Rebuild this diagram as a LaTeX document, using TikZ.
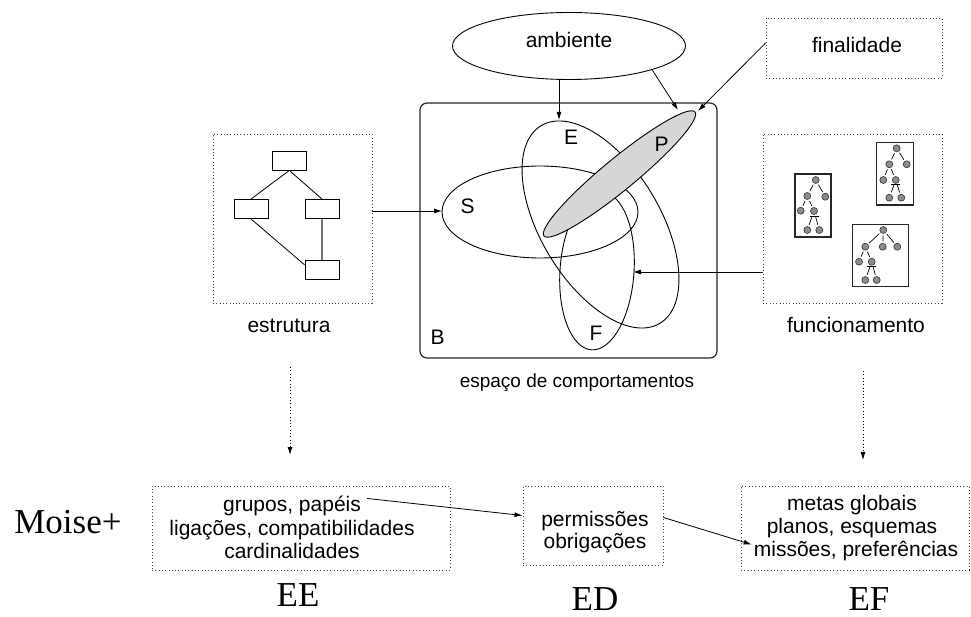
\documentclass[tikz,border=0pt]{standalone}
\usepackage{fontspec}
\setmainfont{Liberation Serif}
\setsansfont{Liberation Sans}
\usetikzlibrary{arrows.meta,shapes.geometric}

\tikzset{
  lbl/.style={font=\sffamily\fontsize{21}{24}\selectfont, inner sep=0pt, anchor=base},
  setlbl/.style={font=\sffamily\fontsize{21}{24}\selectfont, inner sep=0pt, anchor=base},
  smalllbl/.style={font=\sffamily\fontsize{19}{22}\selectfont, inner sep=0pt, anchor=base},
  bigserif/.style={font=\rmfamily\fontsize{35}{40}\selectfont, inner sep=0pt, anchor=base},
  dotbox/.style={draw=black!75, dash pattern=on 1pt off 2.3pt, line width=0.9pt, inner sep=0pt},
  arr/.style={-{Latex[length=8pt,width=5pt]}, line width=0.8pt},
  dotarr/.style={arr, dash pattern=on 1pt off 2.3pt},
  setline/.style={line width=0.9pt},
  orgbox/.style={draw, line width=0.9pt, minimum width=34, minimum height=19, inner sep=0pt},
  treebox/.style={draw=black!85, line width=1.1pt, inner sep=0pt},
  tn/.style={circle, draw=black!80, fill=black!45, minimum size=7pt, inner sep=0pt, line width=0.6pt},
  te/.style={line width=0.7pt, shorten <=1.6pt, shorten >=1.6pt},
}

\begin{document}
\begin{tikzpicture}[x=1pt,y=-1pt]
\useasboundingbox (0,0) rectangle (971,617);

% ---------- behaviour space ----------
\node[draw=black!85, line width=1.2pt, rounded corners=7pt, minimum width=297, minimum height=255, inner sep=0pt] (space) at (568.5,230.5) {};
\node[smalllbl] (spacelbl) at (577,387) {espaço de comportamentos};

% sets E, S, F
\draw[setline, shift={(600.5,224.5)}, rotate=-59] (0,0) ellipse [x radius=115.3pt, y radius=59.8pt];
\draw[setline] (540,212) ellipse [x radius=98pt, y radius=46pt];
\draw[setline, shift={(597,271)}, rotate=-4] (0,0) ellipse [x radius=37pt, y radius=79pt];
% set P
\draw[setline, fill=black!16, shift={(619.5,174)}, rotate=39.4] (0,0) ellipse [x radius=97.7pt, y radius=16pt];

\node[setlbl] (lE) at (571,145) {E};
\node[setlbl] (lP) at (661.5,152) {P};
\node[setlbl] (lS) at (467.5,214) {S};
\node[setlbl] (lF) at (596,340) {F};
\node[setlbl] (lB) at (437.5,344) {B};

\coordinate (Etop) at (559,120);
\coordinate (Pa) at (678,110);
\coordinate (Pb) at (698,111);
\coordinate (Sleft) at (442,211);
\coordinate (Fright) at (633,272);

% ---------- environment and purpose ----------
\node[draw, ellipse, line width=0.9pt, minimum width=233, minimum height=67, inner sep=0pt] (amb) at (569,46) {};
\node[lbl] (amblbl) at (569,48) {ambiente};
\draw[arr] (amb.south -| Etop) -- (Etop);
\draw[arr] (amb.-16) -- (Pa);

\node[dotbox, minimum width=176, minimum height=60] (fin) at (854,48) {};
\node[lbl] (finlbl) at (857,53) {finalidade};
\draw[arr] ([yshift=5pt]fin.west) -- (Pb);

% ---------- structure ----------
\node[dotbox, minimum width=159, minimum height=169] (est) at (292.5,218.5) {};
\node[orgbox] (o1) at (289.3,160.5) {};
\node[orgbox] (o2) at (251,209) {};
\node[orgbox] (o3) at (322,209) {};
\node[orgbox] (o4) at (322,269.5) {};
\draw[line width=0.8pt] (o1.south) -- (o2.north);
\draw[line width=0.8pt] (o1.south) -- (o3.north);
\draw[line width=0.8pt] (o2.south) -- (o4.165);
\draw[line width=1.6pt, black!55] (o3.south) -- (o4.north);
\node[lbl] (estlbl) at (289,333) {estrutura};
\draw[arr] (est.east |- Sleft) -- (Sleft);

% ---------- functioning ----------
\node[dotbox, minimum width=179, minimum height=169] (fun) at (852.5,218.5) {};
\node[lbl] (funlbl) at (856,333) {funcionamento};
\draw[arr] (fun.west |- Fright) -- (Fright);

% tree A
\node[treebox, minimum width=36, minimum height=63] (ta) at (813,205.5) {};
\node[tn] (Ar) at (815.7,180) {};
\node[tn] (Ac1) at (807.3,196) {};
\node[tn] (Ac2) at (825.3,196.7) {};
\node[tn] (Ag1) at (800.7,210.7) {};
\node[tn] (Ag2) at (814,211) {};
\node[tn] (Ah1) at (807.3,230) {};
\node[tn] (Ah2) at (819.3,230) {};
\draw[te] (Ar) -- (Ac1);
\draw[te] (Ar) -- (Ac2);
\draw[te] (Ac1) -- (Ag1);
\draw[te] (Ac1) -- (Ag2);
\draw[te] (Ag2) -- (Ah1);
\draw[te] (Ag2) -- (Ah2);
\draw[line width=0.7pt] ([xshift=-4.5pt,yshift=-5pt]Ag2.center) -- ([xshift=4.5pt,yshift=-5pt]Ag2.center);

% tree B
\node[treebox, minimum width=36.6, minimum height=62.7] (tb) at (895,173.7) {};
\node[tn] (Br) at (896.7,148.3) {};
\node[tn] (Bc1) at (889.3,164.3) {};
\node[tn] (Bc2) at (906.7,164.3) {};
\node[tn] (Bg1) at (883.3,180) {};
\node[tn] (Bg2) at (895.7,180) {};
\node[tn] (Bh1) at (889.3,197.7) {};
\node[tn] (Bh2) at (901.3,197.7) {};
\draw[te] (Br) -- (Bc1);
\draw[te] (Br) -- (Bc2);
\draw[te] (Bc1) -- (Bg1);
\draw[te] (Bc1) -- (Bg2);
\draw[te] (Bg2) -- (Bh1);
\draw[te] (Bg2) -- (Bh2);
\draw[line width=0.7pt] ([xshift=-4.5pt,yshift=-4.5pt]Bg2.center) -- ([xshift=4.5pt,yshift=-4.5pt]Bg2.center);

% tree C
\node[treebox, minimum width=56.4, minimum height=62.4] (tc) at (880.5,255.5) {};
\node[tn] (Cr) at (883.3,230) {};
\node[tn] (Cc1) at (865.3,246.7) {};
\node[tn] (Cc2) at (882.7,246.7) {};
\node[tn] (Cc3) at (897.3,246.7) {};
\node[tn] (Cg1) at (859,261.7) {};
\node[tn] (Cg2) at (871.7,261.7) {};
\node[tn] (Ch1) at (865.3,280) {};
\node[tn] (Ch2) at (876.7,280) {};
\draw[te] (Cr) -- (Cc1);
\draw[te] (Cr) -- (Cc2);
\draw[te] (Cr) -- (Cc3);
\draw[te] (Cc1) -- (Cg1);
\draw[te] (Cc1) -- (Cg2);
\draw[te] (Cg2) -- (Ch1);
\draw[te] (Cg2) -- (Ch2);
\draw[line width=0.7pt] ([xshift=-4.5pt,yshift=-4.5pt]Cg2.center) -- ([xshift=4.5pt,yshift=-4.5pt]Cg2.center);

% ---------- Moise+ specifications ----------
\coordinate (d1s) at (290,367);
\coordinate (d1e) at (290,455);
\coordinate (d2s) at (863,371);
\coordinate (d2e) at (863,460);
\draw[dotarr] (d1s) -- (d1e);
\draw[dotarr] (d2s) -- (d2e);

\node[bigserif] (moise) at (68,533) {Moise+};

\node[dotbox, minimum width=298, minimum height=84] (ee) at (301,528) {};
\node[lbl] (ee1) at (292,511) {grupos, papéis};
\node[lbl] (ee2) at (292,535) {ligações, compatibilidades};
\node[lbl] (ee3) at (292,558) {cardinalidades};

\node[dotbox, minimum width=140, minimum height=79] (ed) at (593,525.5) {};
\node[lbl] (ed1) at (595,526) {permissões};
\node[lbl] (ed2) at (595,548) {obrigações};

\node[dotbox, minimum width=228, minimum height=84] (ef) at (855,528) {};
\node[lbl] (ef1) at (852,510) {metas globais};
\node[lbl] (ef2) at (852,533) {planos, esquemas};
\node[lbl] (ef3) at (856,556) {missões, preferências};

\draw[arr] ([xshift=6pt,yshift=7pt]ee1.east) -- ([yshift=10pt]ed.west);
\draw[arr] ([yshift=8pt]ed.east) -- ([xshift=-2pt,yshift=6pt]ef3.west);

\node[bigserif] (eelbl) at (298,606) {EE};
\node[bigserif] (edlbl) at (595,610) {ED};
\node[bigserif] (eflbl) at (869,610) {EF};
\end{tikzpicture}
\end{document}
